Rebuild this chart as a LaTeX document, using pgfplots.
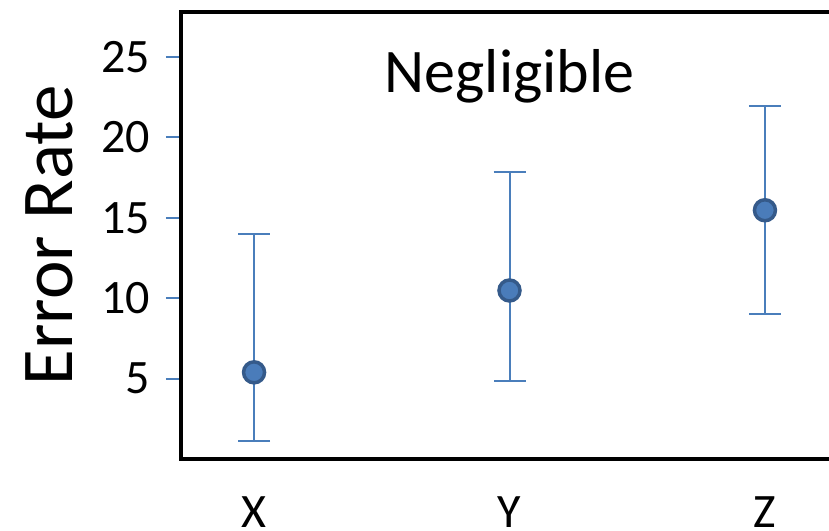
\documentclass[border=0pt]{standalone}
\usepackage{pgfplots}
\pgfplotsset{compat=1.18}
\usepackage{fontspec}
\setmainfont{Carlito}
\definecolor{errblue}{HTML}{4A7EBB}
\definecolor{mkfill}{HTML}{4A7CBA}
\definecolor{mkdraw}{HTML}{355A8A}
\begin{document}
\begin{tikzpicture}
\begin{axis}[
  scale only axis,
  width=657pt, height=447pt,
  xmin=0.714, xmax=3.286,
  ymin=0, ymax=27.8,
  xtick={1,2,3}, xticklabels={X,Y,Z},
  ytick={5,10,15,20,25},
  ytick pos=left,
  xtick pos=bottom,
  x tick style={draw=none},
  major tick length=15pt,
  tick align=outside,
  y tick style={draw=errblue, line width=2pt},
  axis line style={line width=4pt, black},
  /pgf/number format/assume math mode=true,
  yticklabel style={font=\fontsize{48}{56}\selectfont, anchor=east, inner sep=0pt, xshift=-16pt},
  xticklabel style={font=\fontsize{48}{56}\selectfont, anchor=base, inner sep=0pt, yshift=-53pt},
  ylabel={Error Rate},
  ylabel style={font=\fontsize{73}{80}\selectfont, at={(axis description cs:-0.1659,0.5)}, anchor=base, inner sep=0pt},
  clip=false,
]
\addplot[only marks, mark=*, mark size=10.5pt, mark options={fill=mkfill, draw=mkdraw, line width=3.5pt}]
  coordinates {(1,5.39) (2,10.48) (3,15.47)};
\addplot[draw=none, mark=none, forget plot,
  error bars/.cd, y dir=both, y explicit,
  error bar style={draw=errblue, line width=2pt},
  error mark options={rotate=90, mark size=16pt, line width=2pt, draw=errblue}]
  coordinates {(1,5.39) += (0,8.60) -= (0,4.30)
               (2,10.48) += (0,7.35) -= (0,5.61)
               (3,15.47) += (0,6.50) -= (0,6.45)};
\node[anchor=base, font=\fontsize{62}{68}\selectfont, inner sep=0pt] at ([yshift=-81pt]rel axis cs:0.5,1) {Negligible};
\coordinate (bl) at (rel axis cs:0,0);
\end{axis}
\pgfresetboundingbox
\path[use as bounding box] ([shift={(-181pt,-71pt)}]bl) rectangle ([shift={(648pt,459pt)}]bl);
\end{tikzpicture}
\end{document}
